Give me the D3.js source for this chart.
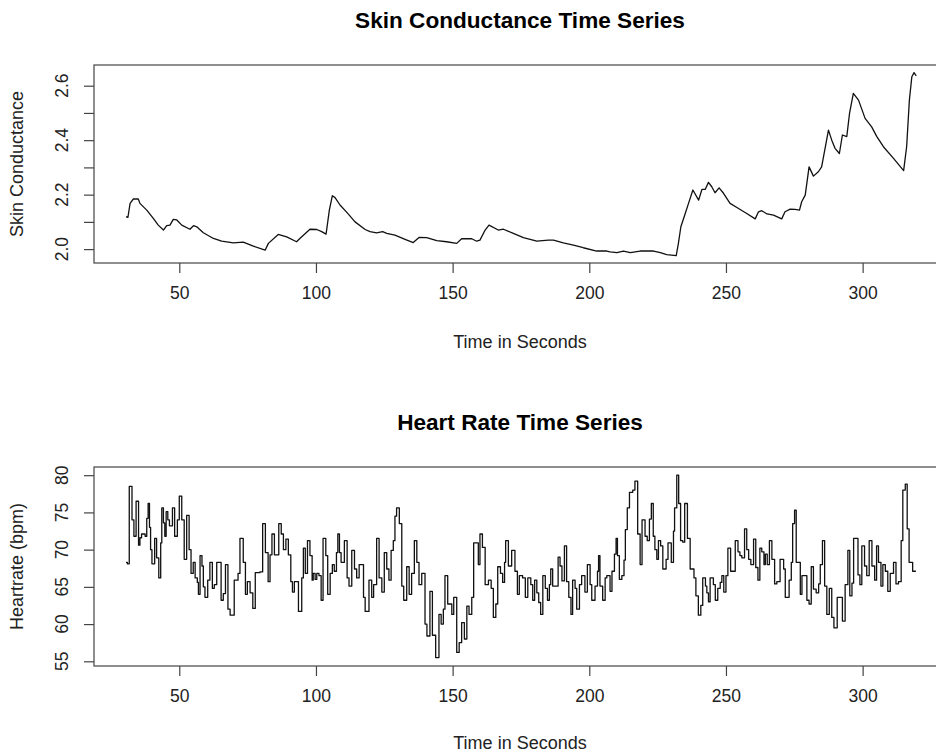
<!DOCTYPE html>
<html>
<head>
<meta charset="utf-8">
<script src="https://cdn.jsdelivr.net/npm/d3@7"></script>
<style>
  body { margin: 0; background: #fff; }
  svg { display: block; font-family: "Liberation Sans", Arial, sans-serif; }
</style>
</head>
<body>
<svg width="936" height="753"></svg>
<script>
// ---------------- data ----------------
// skin conductance, time in seconds / value
const scTime = [30.5,31.2,32.0,33.2,35.0,35.6,38.1,40.5,42.3,44.2,45.4,46.6,47.8,49.1,50.9,53.9,55.2,56.4,58.8,62.5,
  65.5,69.8,73.4,77.1,81.4,82.6,86.2,89.3,92.9,94.2,97.8,100.3,102.1,103.7,104.9,106.0,107.0,108.8,111.3,114.3,
  118.0,119.8,122.2,124.4,125.9,128.9,132.6,135.6,137.7,140.5,144.2,147.8,151.5,153.3,157.0,158.8,160.0,161.9,163.3,166.7,
  168.6,172.2,175.9,180.8,185.0,186.9,190.5,194.2,197.8,202.7,206.4,207.6,210.1,212.5,215.0,218.6,223.5,226.0,228.3,231.8,
  232.6,233.5,235.1,236.3,237.9,240.0,241.2,242.4,243.6,244.8,246.0,247.5,249.1,251.5,254.0,257.6,260.7,261.9,263.1,265.0,
  267.4,270.4,271.6,273.5,275.3,276.9,277.7,279.0,280.4,282.0,283.8,285.0,285.9,287.5,288.7,289.9,291.5,292.6,294.2,295.2,
  296.6,298.5,300.9,303.3,305.2,307.6,311.3,315.0,316.1,317.1,318.0,318.8,319.6];
const scValue = [2.119,2.116,2.168,2.184,2.184,2.168,2.143,2.113,2.088,2.070,2.086,2.088,2.109,2.107,2.088,2.073,2.086,2.082,2.060,2.039,
  2.029,2.023,2.026,2.011,1.996,2.021,2.054,2.045,2.027,2.040,2.073,2.072,2.064,2.055,2.143,2.196,2.189,2.162,2.135,2.100,
  2.072,2.064,2.060,2.064,2.058,2.051,2.036,2.024,2.043,2.042,2.031,2.027,2.021,2.038,2.038,2.029,2.033,2.070,2.088,2.070,
  2.073,2.058,2.042,2.029,2.033,2.033,2.023,2.015,2.005,1.993,1.993,1.990,1.987,1.993,1.987,1.993,1.993,1.987,1.980,1.976,
  2.021,2.082,2.131,2.168,2.217,2.180,2.219,2.219,2.245,2.229,2.207,2.225,2.205,2.168,2.153,2.131,2.111,2.137,2.141,2.129,
  2.125,2.111,2.137,2.147,2.146,2.143,2.174,2.198,2.302,2.268,2.284,2.302,2.351,2.437,2.400,2.370,2.351,2.419,2.413,2.498,
  2.572,2.547,2.480,2.449,2.413,2.376,2.333,2.288,2.376,2.547,2.633,2.648,2.636];

// heart rate, step start time / bpm
const hrTime = [30.5,31.0,31.7,32.7,33.4,34.2,35.1,35.6,36.2,37.5,38.1,38.6,39.1,39.5,40.0,41.0,41.7,42.5,43.2,43.6,
  44.2,44.7,45.2,45.8,46.4,47.5,48.3,49.3,50.0,50.9,51.8,52.7,53.6,54.3,55.1,55.8,56.6,57.0,57.6,58.3,
  58.8,59.4,60.4,61.2,62.1,62.8,63.7,65.3,66.1,66.9,67.8,68.6,70.1,71.5,72.2,73.4,74.2,74.9,75.9,76.9,
  77.8,79.5,80.5,81.5,82.5,83.2,83.9,84.8,86.4,87.3,88.1,89.0,89.9,90.8,91.4,92.1,93.6,94.8,95.4,96.1,
  96.9,97.8,98.6,99.0,99.7,100.3,101.1,101.9,102.6,103.6,104.3,105.2,106.0,106.7,107.5,108.0,108.6,109.2,110.4,111.4,
  112.1,113.1,114.1,114.9,115.8,117.4,118.0,119.4,120.4,121.1,122.2,123.1,124.1,125.0,125.9,126.7,127.5,128.3,128.9,129.5,
  130.5,131.4,132.1,133.2,134.1,135.0,136.0,136.9,137.7,138.7,139.9,140.6,141.7,142.6,143.8,145.0,145.8,146.6,147.2,148.2,
  149.7,150.4,151.5,152.4,153.3,154.3,155.2,156.0,157.0,157.7,159.4,160.0,160.9,161.9,163.1,164.1,164.9,165.8,166.5,167.5,
  168.3,169.0,169.4,170.4,171.6,172.8,173.7,174.4,175.6,176.6,177.5,178.6,179.3,180.0,180.8,181.5,182.2,183.0,183.9,184.7,
  185.4,185.9,186.6,188.6,189.3,190.0,190.9,191.7,192.5,193.3,193.9,194.8,195.4,196.4,197.2,198.4,199.3,200.3,200.9,202.1,
  203.0,203.4,203.9,204.9,205.8,206.4,207.6,208.3,209.2,209.8,210.3,211.0,211.9,212.7,213.2,213.9,214.7,215.9,216.7,217.7,
  218.6,219.3,220.4,221.2,222.0,222.7,223.4,224.0,224.7,225.3,226.1,226.9,228.1,228.8,230.0,230.8,231.2,232.0,232.7,233.4,
  234.2,234.9,235.9,236.9,238.3,239.0,239.9,240.8,241.5,242.5,243.0,243.6,244.2,245.4,246.1,247.0,247.9,248.5,249.2,250.0,
  250.7,251.7,253.4,254.4,255.1,255.8,256.8,257.6,258.3,259.1,260.1,260.9,261.7,262.4,263.1,263.9,264.4,265.1,265.9,266.8,
  267.8,268.6,269.8,271.1,271.7,273.1,273.9,274.4,275.1,275.7,277.2,277.8,279.6,280.4,281.2,282.0,283.0,283.9,284.5,285.3,
  286.1,286.9,287.8,288.7,289.5,290.7,292.6,293.6,294.6,295.3,296.1,296.7,298.3,299.0,299.7,300.7,301.5,302.4,303.4,304.4,
  305.1,305.8,306.7,307.4,308.3,309.2,310.1,311.3,312.2,313.1,314.1,314.7,315.6,316.3,317.0,318.3,319.5];
const hrValue = [68.3,68.1,78.5,74.0,71.8,76.5,70.6,71.6,72.1,71.8,74.2,76.2,73.0,70.0,68.1,71.5,68.9,66.2,70.9,75.6,
  73.6,71.8,75.1,74.0,73.2,75.6,71.8,74.0,77.2,74.0,68.7,74.6,70.0,66.8,68.3,66.2,65.6,64.0,69.2,67.8,
  65.0,63.6,65.9,68.3,64.8,65.3,68.3,63.2,64.1,68.0,62.0,61.2,65.9,66.8,71.5,68.3,64.0,65.7,64.2,62.1,
  66.9,67.0,73.5,69.6,65.7,69.3,72.1,69.3,73.5,72.1,70.0,71.4,69.3,65.7,64.3,65.7,61.7,66.2,70.2,66.8,
  71.2,69.2,65.9,66.8,66.0,66.8,66.5,63.2,71.5,69.2,64.0,66.8,68.0,67.1,69.6,72.1,69.6,68.3,71.2,66.2,
  65.1,69.9,67.4,66.2,68.0,63.6,61.7,65.9,63.6,65.3,71.5,66.2,64.3,69.6,67.4,65.9,69.9,71.2,74.5,75.6,
  73.5,65.1,63.2,67.7,64.0,66.8,71.2,68.3,65.3,66.8,60.0,58.4,64.4,58.5,55.5,61.3,60.0,62.0,66.5,62.7,
  61.3,63.6,56.2,57.5,60.2,58.0,62.4,61.3,63.6,70.9,68.0,72.1,70.3,65.3,65.9,64.8,60.9,62.7,67.7,66.8,
  65.6,68.3,71.2,67.8,69.9,67.1,64.0,66.5,66.2,63.6,66.2,65.3,63.2,65.9,64.2,62.9,61.3,66.5,64.8,63.2,
  65.3,67.4,65.1,69.0,67.8,65.8,70.5,65.7,63.6,61.3,65.9,64.8,62.0,65.3,66.5,64.3,68.0,65.3,63.2,65.1,
  67.1,69.2,65.1,63.2,66.2,66.5,64.4,67.1,69.4,71.5,69.2,66.0,66.5,68.6,72.7,75.6,77.7,78.0,79.2,72.1,
  68.0,74.0,71.8,71.2,74.1,76.2,71.8,70.0,68.7,71.2,70.5,67.4,68.7,70.9,68.3,72.5,75.6,80.0,76.2,71.2,
  71.0,76.2,71.5,67.4,66.2,63.8,61.2,62.5,66.2,65.1,64.2,63.0,66.2,65.3,63.2,64.8,65.6,66.5,64.3,66.5,
  70.2,67.1,71.2,69.7,69.2,68.9,72.8,70.0,68.7,68.0,71.4,67.6,65.9,70.2,69.7,68.0,69.4,68.0,71.2,68.7,
  65.4,65.7,68.7,67.4,63.6,65.9,68.3,73.5,75.3,68.3,64.0,66.5,63.2,62.7,67.7,64.7,64.2,65.4,68.0,71.2,
  65.1,61.3,64.8,60.9,59.5,63.6,60.4,65.3,69.9,63.8,65.5,71.5,66.6,65.3,70.5,67.8,66.5,71.2,67.8,65.9,
  70.5,68.3,65.1,68.0,67.1,64.4,66.8,68.3,65.4,65.7,71.2,78.0,78.8,72.8,68.3,67.1,67.1];

const xTicks = [50, 100, 150, 200, 250, 300];
const scTicks = [2.0, 2.1, 2.2, 2.3, 2.4, 2.5, 2.6];
const scLabelTicks = [2.0, 2.2, 2.4, 2.6];
const hrTicks = [55, 60, 65, 70, 75, 80];

// ---------------- layout ----------------
const svg = d3.select('svg');
const left = 94, right = 946;   // right edge of plot box lies outside the picture
const tickLen = 10;
const ink = '#222';

const x = d3.scaleLinear().domain([18.8, 330.5]).range([left, right]);

const panels = [
  { title: 'Skin Conductance Time Series', ylab: 'Skin Conductance', top: 65, bottom: 263, xlabY: 348,
    domain: [1.949, 2.676], ticks: scTicks, labels: scLabelTicks, fmt: d3.format('.1f'),
    xs: scTime, ys: scValue, curve: d3.curveLinear },
  { title: 'Heart Rate Time Series', ylab: 'Heartrate (bpm)', top: 467, bottom: 666, xlabY: 749,
    domain: [54.37, 81.1], ticks: hrTicks, labels: hrTicks, fmt: d3.format('d'),
    xs: hrTime, ys: hrValue, curve: d3.curveStepAfter }
];

panels.forEach(p => {
  const y = d3.scaleLinear().domain(p.domain).range([p.bottom, p.top]);
  const g = svg.append('g');
  const mid = (left + right) / 2;

  // data line
  const pts = p.xs.map((t, i) => [t, p.ys[i]]);
  g.append('path')
    .datum(pts)
    .attr('fill', 'none')
    .attr('stroke', '#111')
    .attr('stroke-width', 1.3)
    .attr('stroke-linejoin', 'round')
    .attr('d', d3.line().x(d => x(d[0])).y(d => y(d[1])).curve(p.curve));

  // box
  g.append('rect')
    .attr('x', left).attr('y', p.top)
    .attr('width', right - left).attr('height', p.bottom - p.top)
    .attr('fill', 'none').attr('stroke', '#444').attr('stroke-width', 1.2);

  // x axis
  const xa = g.append('g')
    .attr('transform', `translate(0,${p.bottom})`)
    .call(d3.axisBottom(x).tickValues(xTicks).tickSize(tickLen).tickPadding(14).tickFormat(d3.format('d')));
  xa.select('.domain').remove();
  xa.selectAll('line').attr('stroke', '#444').attr('stroke-width', 1.2);
  xa.selectAll('text').attr('fill', ink).style('font-size', '17.5px');

  // y axis (ticks), labels rotated like R's default
  const ya = g.append('g')
    .attr('transform', `translate(${left},0)`)
    .call(d3.axisLeft(y).tickValues(p.ticks).tickSize(tickLen).tickFormat(''));
  ya.select('.domain').remove();
  ya.selectAll('line').attr('stroke', '#444').attr('stroke-width', 1.2);

  g.selectAll('.ylab')
    .data(p.labels)
    .join('text')
    .attr('transform', d => `translate(62,${y(d)}) rotate(-90)`)
    .attr('dy', '0.35em')
    .attr('text-anchor', 'middle')
    .attr('fill', ink)
    .style('font-size', '17.5px')
    .text(p.fmt);

  // titles
  g.append('text')
    .attr('x', mid).attr('y', p.top - 37)
    .attr('text-anchor', 'middle')
    .attr('fill', '#000')
    .style('font-size', '22.6px').style('font-weight', 'bold')
    .text(p.title);

  g.append('text')
    .attr('x', mid).attr('y', p.xlabY)
    .attr('text-anchor', 'middle')
    .attr('fill', ink)
    .style('font-size', '18px')
    .text('Time in Seconds');

  g.append('text')
    .attr('transform', `translate(17,${(p.top + p.bottom) / 2}) rotate(-90)`)
    .attr('dy', '0.35em')
    .attr('text-anchor', 'middle')
    .attr('fill', ink)
    .style('font-size', '18px')
    .text(p.ylab);
});
</script>
</body>
</html>
